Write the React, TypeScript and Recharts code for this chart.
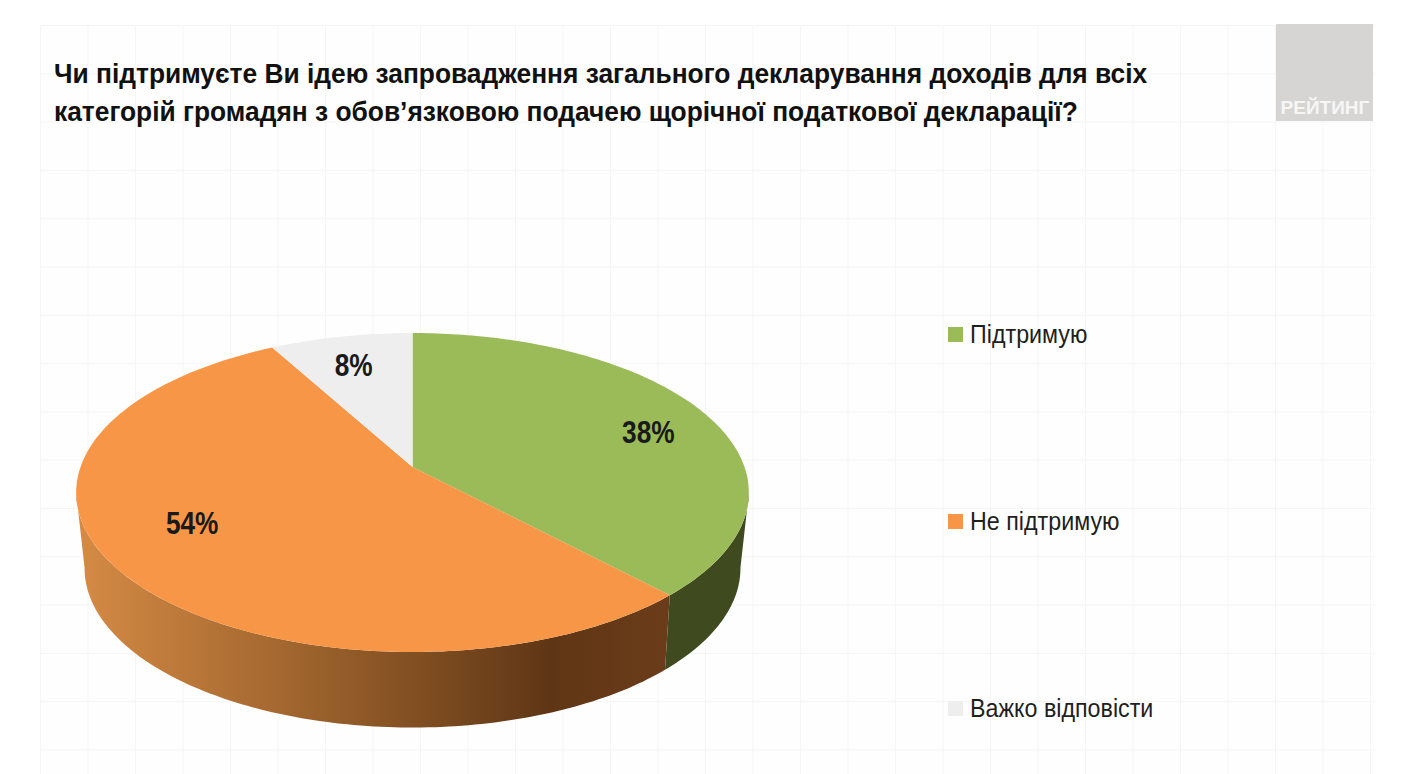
import { Legend, Pie, PieChart } from "recharts";

const categories = ["Підтримую", "Не підтримую", "Важко відповісти"];
const values = [38, 54, 8];
const colors = ["#9bbb59", "#f79646", "#eeeeee"];
const wallColors = ["#3f4a1f", "url(#orangeWall)", "#8a8a8a"];
const titleLines = [
  "Чи підтримуєте Ви ідею запровадження загального декларування доходів для всіх",
  "категорій громадян з обов’язковою подачею щорічної податкової декларації?",
];

const data = categories.map((name, i) => ({
  name,
  value: values[i],
  fill: colors[i],
  wall: wallColors[i],
}));

const FONT = '"Liberation Sans", Arial, sans-serif';
const CX = 412.5;
const CY = 467;
const R = 332;

// perspective tilt of the disc, top face and bottom rim
const top = { p: 0.16, sx: 1, sy: 155.4 / R, dy: 0 };
const bottom = { p: 0.17, sx: 323.2 / R, sy: 154.9 / R, dy: 73.9 };

// the side wall only shows between these two angles
const WALL_FROM = -9.5;
const WALL_TO = -170.5;

const project = (angle: number, r: number, t = top) => {
  const rad = (angle * Math.PI) / 180;
  const u = (r * Math.cos(rad)) / R;
  const v = (-r * Math.sin(rad)) / R;
  const d = 1 - t.p * v;
  return [CX + (R * t.sx * u) / d, CY + t.dy + (R * t.sy * v) / d];
};

const arcPoints = (a0: number, a1: number, t = top) => {
  const n = Math.max(2, Math.ceil(Math.abs(a1 - a0)));
  const pts: number[][] = [];
  for (let i = 0; i <= n; i++) {
    pts.push(project(a0 + ((a1 - a0) * i) / n, R, t));
  }
  return pts;
};

const toPath = (pts: number[][]) =>
  "M" + pts.map((p) => `${p[0].toFixed(1)},${p[1].toFixed(1)}`).join("L") + "Z";

const TopSlice = (props: any) => {
  const pts = arcPoints(props.startAngle, props.endAngle);
  return <path d={toPath([[CX, CY], ...pts])} fill={props.fill} />;
};

const WallSlice = (props: any) => {
  const from = Math.min(props.startAngle, WALL_FROM);
  const to = Math.max(props.endAngle, WALL_TO);
  if (from <= to) return null;
  const upper = arcPoints(from, to);
  const lower = arcPoints(from, to, bottom).reverse();
  return <path d={toPath([...upper, ...lower])} fill={props.wall} />;
};

const labelNudge = [
  [0, 9],
  [12, -23],
  [0, 5],
];

const renderLabel = (props: any) => {
  const [x, y] = project(props.midAngle, R * 0.8);
  const [nx, ny] = labelNudge[props.index];
  return (
    <text
      x={x + nx}
      y={y + ny}
      textAnchor="middle"
      dominantBaseline="central"
      fontFamily={FONT}
      fontWeight="bold"
      fontSize={32}
      fill="#1a1a1a"
      transform={`translate(${(x + nx) * 0.18} 0) scale(0.82 1)`}
    >
      {props.value}%
    </text>
  );
};

const renderLegend = (props: any) => {
  const items = props.payload.filter(
    (item: any, i: number, all: any[]) =>
      all.findIndex((o) => o.value === item.value) === i,
  );
  return (
    <div>
      {items.map((item: any) => (
        <div
          key={item.value}
          style={{
            display: "flex",
            alignItems: "center",
            height: 187,
            fontFamily: FONT,
            fontSize: 26,
            color: "#1f1f1f",
            whiteSpace: "nowrap",
          }}
        >
          <span
            style={{
              width: 15,
              height: 15,
              marginRight: 7,
              background: item.color,
            }}
          />
          <span
            style={{
              display: "inline-block",
              transform: "scaleX(0.895)",
              transformOrigin: "left",
            }}
          >
            {item.value}
          </span>
        </div>
      ))}
    </div>
  );
};

export default function App() {
  return (
    <div
      style={{
        position: "absolute",
        left: 0,
        top: 0,
        width: 1408,
        height: 774,
        overflow: "hidden",
        background: "#ffffff",
      }}
    >
      <div
        style={{
          position: "absolute",
          left: 40,
          top: 25,
          width: 1335,
          height: 749,
          backgroundColor: "#fefefe",
          backgroundImage:
            "linear-gradient(to right, #f5f5f5 1px, transparent 1px), linear-gradient(to bottom, #f5f5f5 1px, transparent 1px)",
          backgroundSize: "47.5px 48.3px",
        }}
      />
      <div
        style={{
          position: "absolute",
          left: 1276,
          top: 24,
          width: 97,
          height: 97,
          background: "#d6d5d3",
        }}
      >
        <div
          style={{
            position: "absolute",
            left: 1,
            right: 0,
            top: 73,
            textAlign: "center",
            fontFamily: FONT,
            fontWeight: "bold",
            fontSize: 19,
            color: "#f6f6f6",
          }}
        >
          РЕЙТИНГ
        </div>
      </div>
      <div
        style={{
          position: "absolute",
          left: 54,
          top: 55,
          fontFamily: FONT,
          fontWeight: "bold",
          fontSize: 28,
          lineHeight: "38px",
          color: "#111111",
          whiteSpace: "nowrap",
          transform: "scaleX(0.941)",
          transformOrigin: "left",
        }}
      >
        {titleLines.map((line) => (
          <div key={line}>{line}</div>
        ))}
      </div>
      <div style={{ position: "absolute", left: 0, top: 0 }}>
        <PieChart width={1408} height={774} accessibilityLayer={false}>
          <defs>
            <linearGradient id="orangeWall" gradientUnits="userSpaceOnUse" x1="76" y1="0" x2="668" y2="0">
              <stop offset="0%" stopColor="#d58b45" />
              <stop offset="35%" stopColor="#a3672f" />
              <stop offset="80%" stopColor="#5f3615" />
              <stop offset="100%" stopColor="#6b3c1a" />
            </linearGradient>
          </defs>
          <Pie
            data={data}
            dataKey="value"
            nameKey="name"
            cx={CX}
            cy={CY}
            outerRadius={R}
            startAngle={90}
            endAngle={-270}
            stroke="none"
            legendType="none"
            shape={WallSlice}
            isAnimationActive={false}
          />
          <Pie
            data={data}
            dataKey="value"
            nameKey="name"
            cx={CX}
            cy={CY}
            outerRadius={R}
            startAngle={90}
            endAngle={-270}
            stroke="none"
            legendType="square"
            shape={TopSlice}
            label={renderLabel}
            labelLine={false}
            isAnimationActive={false}
          />
          <Legend
            content={renderLegend}
            itemSorter={null}
            wrapperStyle={{ position: "absolute", left: 948, top: 241, width: 300, bottom: "auto", right: "auto" }}
          />
        </PieChart>
      </div>
    </div>
  );
}
